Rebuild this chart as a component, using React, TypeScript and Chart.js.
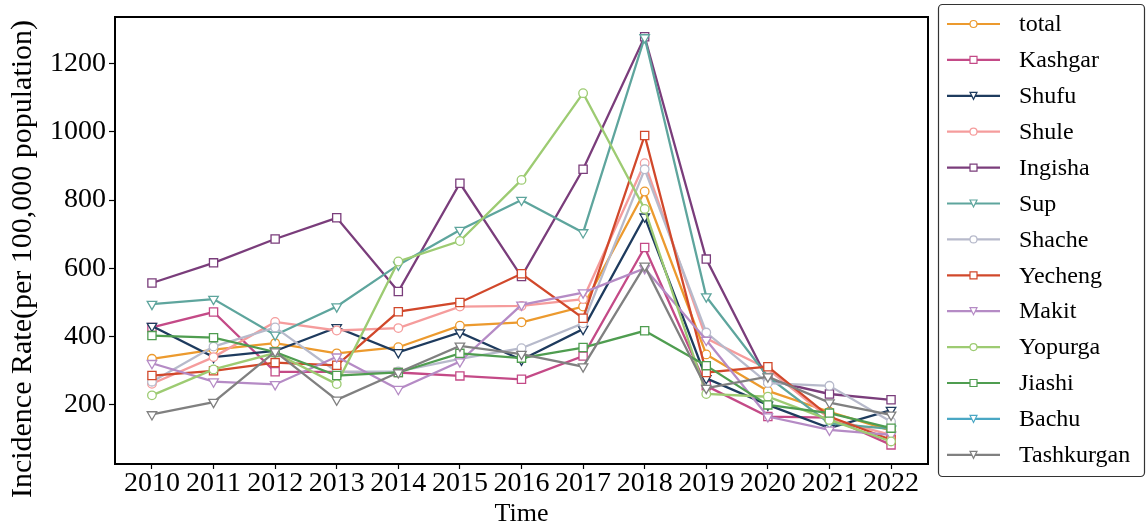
import React, { useEffect, useRef } from "react";
import { Chart, registerables } from "chart.js";

Chart.register(...registerables);

// ---- data ----
const years = [2010, 2011, 2012, 2013, 2014, 2015, 2016, 2017, 2018, 2019, 2020, 2021, 2022];
const yTicks = [200, 400, 600, 800, 1000, 1200];

const seriesNames = [
  "total", "Kashgar", "Shufu", "Shule", "Ingisha", "Sup", "Shache",
  "Yecheng", "Makit", "Yopurga", "Jiashi", "Bachu", "Tashkurgan",
];

const total = [335, 362, 381, 351, 369, 432, 442, 488, 825, 348, 241, 180, 125];
const kashgar = [427, 472, 297, 297, 295, 285, 275, 343, 661, 256, 166, 163, 83];
const shufu = [431, 340, 358, 427, 354, 412, 332, 422, 751, 278, 200, 132, 185];
const shule = [262, 340, 443, 418, 425, 488, 490, 510, 908, 395, 305, 160, 112];
const ingisha = [557, 616, 686, 748, 532, 849, 576, 890, 1278, 627, 273, 232, 215];
const sup = [495, 510, 405, 488, 610, 712, 800, 705, 1276, 517, 283, 146, 130];
const shache = [268, 371, 427, 297, 298, 335, 366, 439, 890, 412, 264, 256, 151];
const yecheng = [286, 300, 324, 316, 473, 500, 584, 454, 989, 295, 312, 166, 98];
const makit = [322, 268, 260, 341, 246, 327, 493, 529, 600, 390, 166, 127, 112];
const yopurga = [228, 304, 352, 261, 620, 680, 859, 1113, 774, 232, 224, 156, 93];
const jiashi = [403, 397, 355, 286, 295, 351, 337, 368, 417, 315, 200, 176, 132];
const bachu: (number | null)[] = [null, null, null, null, null, null, null, null, null, null, null, null, null];
const tashkurgan = [172, 208, 356, 215, 295, 373, 349, 312, 607, 249, 283, 207, 171];

const seriesValues = [
  total, kashgar, shufu, shule, ingisha, sup, shache,
  yecheng, makit, yopurga, jiashi, bachu, tashkurgan,
];

const seriesColors = [
  "#EC9A2E", "#C44A87", "#1E3B5E", "#F59C9C", "#7A3D7B", "#5EA59D", "#B7BACB",
  "#D1482B", "#B58BC5", "#9DCB72", "#4F9D50", "#4AA7C4", "#808080",
];

type Marker = "circle" | "square" | "down";
const seriesMarkers: Marker[] = [
  "circle", "square", "down", "circle", "square", "down", "circle",
  "square", "down", "circle", "square", "down", "down",
];

const SERIF = '"Liberation Serif", "Times New Roman", "DejaVu Serif", serif';

// ---- marker helpers ----
function chartPointStyle(m: Marker) {
  if (m === "circle") return { pointStyle: "circle", pointRadius: 4.3, pointRotation: 0 };
  if (m === "square") return { pointStyle: "rect", pointRadius: 5.8, pointRotation: 0 };
  return { pointStyle: "triangle", pointRadius: 5.5, pointRotation: 180 };
}

function drawMarker(ctx: CanvasRenderingContext2D, m: Marker, x: number, y: number, s: number, color: string) {
  ctx.save();
  ctx.fillStyle = "#fff";
  ctx.strokeStyle = color;
  ctx.lineWidth = 1.2;
  ctx.beginPath();
  if (m === "circle") {
    ctx.arc(x, y, s / 2, 0, Math.PI * 2);
  } else if (m === "square") {
    ctx.rect(x - s / 2, y - s / 2, s, s);
  } else {
    ctx.moveTo(x - s / 2, y - s / 2);
    ctx.lineTo(x + s / 2, y - s / 2);
    ctx.lineTo(x, y + s / 2);
    ctx.closePath();
  }
  ctx.fill();
  ctx.stroke();
  ctx.restore();
}

// frame around the plotting area
const framePlugin = {
  id: "frame",
  afterDatasetsDraw(chart: any) {
    const { ctx, chartArea: a } = chart;
    ctx.save();
    ctx.strokeStyle = "#000";
    ctx.lineWidth = 2;
    ctx.strokeRect(a.left, a.top, a.right - a.left, a.bottom - a.top);
    ctx.restore();
  },
};

// rotated y-axis title
const yTitlePlugin = {
  id: "yTitle",
  afterDraw(chart: any) {
    const { ctx } = chart;
    ctx.save();
    ctx.translate(23, 259);
    ctx.rotate(-Math.PI / 2);
    ctx.font = `30px ${SERIF}`;
    ctx.fillStyle = "#000";
    ctx.textAlign = "center";
    ctx.textBaseline = "middle";
    ctx.fillText("Incidence Rate(per 100,000 population)", 0, 0);
    ctx.restore();
  },
};

// boxed legend at the right
const legendPlugin = {
  id: "boxLegend",
  afterDraw(chart: any) {
    const { ctx } = chart;
    const left = 938.5, top = 4.5, w = 206, h = 472;
    ctx.save();
    ctx.beginPath();
    (ctx as any).roundRect(left, top, w, h, 4);
    ctx.fillStyle = "#fff";
    ctx.fill();
    ctx.strokeStyle = "#333";
    ctx.lineWidth = 1.2;
    ctx.stroke();
    seriesNames.forEach((name, i) => {
      const cy = 24 + i * 35.9;
      const color = seriesColors[i];
      ctx.strokeStyle = color;
      ctx.lineWidth = 2.2;
      ctx.beginPath();
      ctx.moveTo(947, cy);
      ctx.lineTo(1000, cy);
      ctx.stroke();
      drawMarker(ctx, seriesMarkers[i], 973.5, cy, 7, color);
      ctx.font = `24px ${SERIF}`;
      ctx.fillStyle = "#000";
      ctx.textAlign = "left";
      ctx.textBaseline = "middle";
      ctx.fillText(name, 1019, cy + 1);
    });
    ctx.restore();
  },
};

export default function App() {
  const canvasRef = useRef<HTMLCanvasElement | null>(null);

  useEffect(() => {
    document.body.style.margin = "0";
    const canvas = canvasRef.current;
    if (!canvas) return;

    const n = seriesNames.length;
    const datasets = seriesNames.map((name, i) => ({
      label: name,
      data: years.map((yr, k) => ({ x: yr, y: seriesValues[i][k] })),
      borderColor: seriesColors[i],
      backgroundColor: "#fff",
      borderWidth: 2.3,
      pointBackgroundColor: "#fff",
      pointBorderColor: seriesColors[i],
      pointBorderWidth: 1.3,
      ...chartPointStyle(seriesMarkers[i]),
      tension: 0,
      fill: false,
      order: n - i,
    }));

    const chart = new Chart(canvas, {
      type: "line",
      data: { datasets } as any,
      options: {
        animation: false,
        responsive: false,
        maintainAspectRatio: false,
        layout: { padding: { left: 0, right: 218, top: 17, bottom: 0 } },
        plugins: {
          legend: { display: false },
          tooltip: { enabled: false },
        },
        scales: {
          x: {
            type: "linear",
            min: 2009.4,
            max: 2022.6,
            afterBuildTicks: (s: any) => {
              s.ticks = years.map((v) => ({ value: v }));
            },
            afterFit: (s: any) => {
              s.height = 66;
            },
            grid: {
              display: true,
              drawOnChartArea: false,
              drawTicks: true,
              tickLength: 5,
              tickColor: "#000",
              tickWidth: 1.2,
            },
            border: { display: false },
            ticks: {
              color: "#000",
              font: { family: SERIF, size: 28, lineHeight: 1 },
              padding: 1,
              maxRotation: 0,
              minRotation: 0,
              autoSkip: false,
              callback: (v: any) => String(v),
            },
            title: {
              display: true,
              text: "Time",
              color: "#000",
              font: { family: SERIF, size: 26 },
              padding: { top: 0, bottom: 0 },
            },
          },
          y: {
            type: "linear",
            min: 27,
            max: 1336,
            afterBuildTicks: (s: any) => {
              s.ticks = yTicks.map((v) => ({ value: v }));
            },
            afterFit: (s: any) => {
              s.width = 115;
            },
            grid: {
              display: true,
              drawOnChartArea: false,
              drawTicks: true,
              tickLength: 6,
              tickColor: "#000",
              tickWidth: 1.2,
            },
            border: { display: false },
            ticks: {
              color: "#000",
              font: { family: SERIF, size: 28, lineHeight: 1 },
              padding: 3,
              callback: (v: any) => String(v),
            },
            title: { display: false },
          },
        },
      },
      plugins: [framePlugin, yTitlePlugin, legendPlugin],
    });

    return () => chart.destroy();
  }, []);

  return (
    <div style={{ width: 1146, height: 530 }}>
      <canvas ref={canvasRef} width={1146} height={530} style={{ display: "block" }} />
    </div>
  );
}
